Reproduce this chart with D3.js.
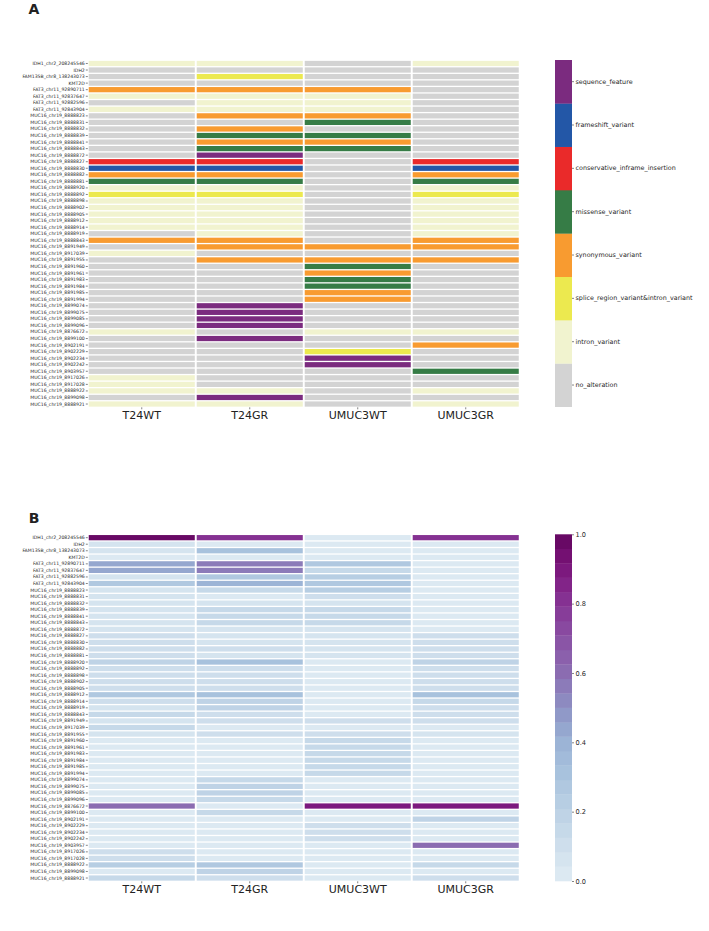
<!DOCTYPE html>
<html><head><meta charset="utf-8">
<script src="https://cdn.jsdelivr.net/npm/d3@7"></script>
<style>
body{margin:0;background:#fff}
svg{display:block;font-family:"DejaVu Sans",sans-serif}
.tick line{stroke:#333;stroke-width:0.6}
.domain{display:none}
</style>
</head><body>
<svg id="chart" width="709" height="931"></svg>
<script>
// ---------- DATA ----------
const samples = ["T24WT", "T24GR", "UMUC3WT", "UMUC3GR"];

const variants = [
  "IDH1_chr2_208245546","IDH2","FAM135B_chr8_138243073","KMT2D",
  "FAT3_chr11_92890711","FAT3_chr11_92837647","FAT3_chr11_92882596","FAT3_chr11_92843904",
  "MUC16_chr19_8888823","MUC16_chr19_8888831","MUC16_chr19_8888832","MUC16_chr19_8888839",
  "MUC16_chr19_8888841","MUC16_chr19_8888843","MUC16_chr19_8888872","MUC16_chr19_8888827",
  "MUC16_chr19_8888830","MUC16_chr19_8888882","MUC16_chr19_8888881","MUC16_chr19_8888920",
  "MUC16_chr19_8888892","MUC16_chr19_8888898","MUC16_chr19_8888902","MUC16_chr19_8888905",
  "MUC16_chr19_8888912","MUC16_chr19_8888914","MUC16_chr19_8888919","MUC16_chr19_8888843",
  "MUC16_chr19_8891949","MUC16_chr19_8917039","MUC16_chr19_8891955","MUC16_chr19_8891960",
  "MUC16_chr19_8891961","MUC16_chr19_8891983","MUC16_chr19_8891984","MUC16_chr19_8891985",
  "MUC16_chr19_8891994","MUC16_chr19_8899074","MUC16_chr19_8899075","MUC16_chr19_8899085",
  "MUC16_chr19_8899096","MUC16_chr19_8876672","MUC16_chr19_8899100","MUC16_chr19_8902191",
  "MUC16_chr19_8902229","MUC16_chr19_8902234","MUC16_chr19_8902242","MUC16_chr19_8903957",
  "MUC16_chr19_8917026","MUC16_chr19_8917028","MUC16_chr19_8888922","MUC16_chr19_8899098",
  "MUC16_chr19_8888921"
];

// variant effect categories (code -> name), legend drawn bottom (first) to top (last)
const categoryCodes = ["n", "i", "s", "y", "m", "c", "f", "q"];
const categoryNames = ["no_alteration", "intron_variant", "splice_region_variant&intron_variant",
  "synonymous_variant", "missense_variant", "conservative_inframe_insertion",
  "frameshift_variant", "sequence_feature"];
const categoryColors = ["#d3d3d3", "#f1f3cf", "#ece94f", "#f89b30", "#367c46", "#ea2a2a", "#2357a7", "#7b2b7f"];

// Panel A: effect per variant (one code per row, in variant order)
const effectT24WT   = "innnyinin" + "nnnnnn" + "cfym" + "isiiiii" + "nyni" + "nnnnnnnnnnn" + "i" + "nnnnnn" + "iiini";
const effectT24GR   = "insnyiiiy" + "nymymq" + "cfym" + "isiiiii" + "iyyn" + "y" + "nnnnnn" + "qqqq" + "nq" + "nnnnnnn" + "iqi";
const effectUMUC3WT = "nnnnyiiiy" + "mnmymn" + "nnnn" + "nnnnnnn" + "nnyn" + "ymymmyy" + "nnnn" + "in" + "nsqqn" + "nnnnn";
const effectUMUC3GR = "innnnnnnn" + "nnnnnn" + "cfym" + "isiiiii" + "iyyn" + "y" + "nnnnnnnnnn" + "in" + "ynnnm" + "nnini";

// Panel B: allele frequency per variant
const freqT24WT = [1.0,0.05,0.05,0.03,0.42,0.42,0.05,0.28,0.05,0.05,0.05,0.07,0.07,0.07,0.07,0.12,0.12,0.12,0.10,0.20,
  0.10,0.10,0.12,0.10,0.28,0.12,0.05,0.13,0.05,0.15,0.05,0.03,0.03,0.03,0.03,0.03,0.03,0.03,0.03,0.03,
  0.03,0.62,0.03,0.03,0.03,0.03,0.03,0.03,0.12,0.12,0.22,0.03,0.15];
const freqT24GR = [0.82,0.03,0.30,0.03,0.55,0.55,0.25,0.38,0.15,0.04,0.06,0.15,0.15,0.15,0.08,0.08,0.08,0.10,0.08,0.30,
  0.10,0.10,0.10,0.10,0.30,0.20,0.20,0.10,0.10,0.04,0.10,0.04,0.04,0.04,0.04,0.04,0.04,0.15,0.18,0.18,
  0.15,0.04,0.15,0.04,0.04,0.04,0.04,0.04,0.04,0.04,0.25,0.20,0.12];
const freqUMUC3WT = [0.03,0.03,0.03,0.03,0.25,0.15,0.22,0.25,0.22,0.12,0.05,0.15,0.15,0.15,0.05,0.06,0.06,0.06,0.06,0.03,
  0.03,0.03,0.03,0.03,0.03,0.03,0.03,0.03,0.12,0.04,0.12,0.15,0.15,0.15,0.15,0.15,0.15,0.04,0.04,0.04,
  0.04,0.90,0.04,0.04,0.12,0.12,0.12,0.04,0.04,0.04,0.04,0.04,0.04];
const freqUMUC3GR = [0.82,0.03,0.03,0.03,0.03,0.03,0.03,0.03,0.03,0.03,0.03,0.03,0.03,0.03,0.03,0.12,0.12,0.12,0.10,0.20,
  0.12,0.10,0.10,0.10,0.30,0.15,0.10,0.10,0.10,0.04,0.08,0.04,0.04,0.04,0.04,0.04,0.04,0.04,0.04,0.04,
  0.04,0.90,0.04,0.18,0.04,0.04,0.04,0.60,0.04,0.04,0.15,0.04,0.10];

const colorbarTicks = [0, 0.2, 0.4, 0.6, 0.8, 1.0];
// ---------- END DATA ----------

const effects = [effectT24WT, effectT24GR, effectUMUC3WT, effectUMUC3GR];
const freqs = [freqT24WT, freqT24GR, freqUMUC3WT, freqUMUC3GR];

const svg = d3.select("#chart");
const rowIdx = d3.range(variants.length);

const x = d3.scaleBand().domain(samples).range([88.3, 519.2]).paddingInner(0.018).paddingOuter(0.004);

const catColor = d3.scaleOrdinal().domain(categoryCodes).range(categoryColors);

// discrete BuPu-like colormap (24 levels)
const nLevels = 24;
const tMap = d3.scaleLinear().domain([0, 0.2, 0.4, 0.6, 0.8, 1]).range([0.12, 0.26, 0.40, 0.62, 0.78, 0.95]);
const heatColors = d3.range(nLevels).map(i => d3.interpolateBuPu(tMap((i + 0.5) / nLevels)));
const heat = d3.scaleQuantize().domain([0, 1]).range(heatColors);

function drawPanel(top, bottom, letter, letterY, fillFn) {
  const y = d3.scaleBand().domain(rowIdx).range([top, bottom]).paddingInner(0.2).paddingOuter(0.1);
  const g = svg.append("g");
  samples.forEach((s, si) => {
    g.selectAll(null).data(rowIdx).enter().append("rect")
      .attr("x", x(s)).attr("width", x.bandwidth())
      .attr("y", d => y(d)).attr("height", y.bandwidth())
      .attr("fill", d => fillFn(si, d));
  });
  const ya = svg.append("g").attr("transform", `translate(${x.range()[0] - 0.5},0)`)
    .call(d3.axisLeft(y).tickSize(2).tickPadding(1).tickFormat(i => variants[i]));
  ya.selectAll("text").attr("font-size", 4.6).attr("fill", "#262626").attr("font-family", "DejaVu Sans");
  const xa = svg.append("g").attr("transform", `translate(0,${bottom})`)
    .call(d3.axisBottom(x).tickSize(2).tickPadding(2));
  xa.selectAll("text").attr("font-size", 11).attr("fill", "#222").attr("font-family", "DejaVu Sans");
  svg.append("text").attr("x", 34).attr("y", letterY).attr("text-anchor", "middle")
    .attr("font-size", 14).attr("font-weight", "bold").attr("fill", "#222").text(letter);
}

drawPanel(60.2, 407.3, "A", 14, (si, r) => catColor(effects[si][r]));
drawPanel(534.4, 881.3, "B", 523, (si, r) => heat(freqs[si][r]));

// Legend A: categorical colorbar
const cbX = 555, cbW = 17;
const ly = d3.scaleBand().domain(categoryCodes.slice().reverse()).range([60, 406.7]);
svg.append("g").selectAll("rect").data(categoryCodes).enter().append("rect")
  .attr("x", cbX).attr("width", cbW).attr("y", d => ly(d)).attr("height", ly.bandwidth() + 0.3)
  .attr("fill", d => catColor(d));
const la = svg.append("g").attr("transform", `translate(${cbX + cbW},0)`)
  .call(d3.axisRight(ly).tickSize(2).tickPadding(1.5)
    .tickFormat(c => categoryNames[categoryCodes.indexOf(c)]));
la.selectAll("text").attr("font-size", 6.4).attr("fill", "#262626").attr("font-family", "DejaVu Sans");

// Legend B: continuous (stepped) colorbar
const cy = d3.scaleLinear().domain([0, 1]).range([881, 534.3]);
svg.append("g").selectAll("rect").data(d3.range(nLevels)).enter().append("rect")
  .attr("x", cbX).attr("width", cbW)
  .attr("y", i => cy((i + 1) / nLevels)).attr("height", i => cy(i / nLevels) - cy((i + 1) / nLevels) + 0.3)
  .attr("fill", i => heatColors[i]);
const lb = svg.append("g").attr("transform", `translate(${cbX + cbW},0)`)
  .call(d3.axisRight(cy).tickValues(colorbarTicks).tickFormat(d3.format(".1f")).tickSize(2).tickPadding(1.5));
lb.selectAll("text").attr("font-size", 6.6).attr("fill", "#262626").attr("font-family", "DejaVu Sans");
</script>
</body></html>
